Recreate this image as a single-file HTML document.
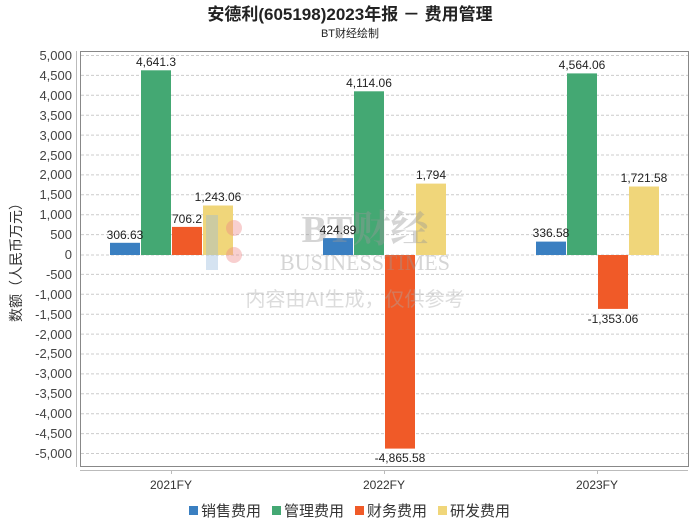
<!DOCTYPE html><html><head><meta charset="utf-8"><style>body{margin:0;background:#fff}svg{display:block;font-family:"Liberation Sans","Noto Sans CJK SC",sans-serif}</style></head><body>
<svg width="700" height="524" viewBox="0 0 700 524">
<text x="350" y="20" text-anchor="middle" font-size="17" font-weight="bold" fill="#222">安德利(605198)2023年报 － 费用管理</text>
<text x="350" y="37" text-anchor="middle" font-size="11" fill="#222">BT财经绘制</text>
<g stroke="#ccc" stroke-dasharray="3,2" stroke-width="1">
<line x1="81" x2="688" y1="55.5" y2="55.5"/><line x1="81" x2="688" y1="75.4" y2="75.4"/><line x1="81" x2="688" y1="95.3" y2="95.3"/><line x1="81" x2="688" y1="115.2" y2="115.2"/><line x1="81" x2="688" y1="135.1" y2="135.1"/><line x1="81" x2="688" y1="155" y2="155"/><line x1="81" x2="688" y1="174.9" y2="174.9"/><line x1="81" x2="688" y1="194.8" y2="194.8"/><line x1="81" x2="688" y1="214.7" y2="214.7"/><line x1="81" x2="688" y1="234.6" y2="234.6"/><line x1="81" x2="688" y1="255" y2="255"/><line x1="81" x2="688" y1="274.4" y2="274.4"/><line x1="81" x2="688" y1="294.3" y2="294.3"/><line x1="81" x2="688" y1="314.2" y2="314.2"/><line x1="81" x2="688" y1="334.1" y2="334.1"/><line x1="81" x2="688" y1="354" y2="354"/><line x1="81" x2="688" y1="373.9" y2="373.9"/><line x1="81" x2="688" y1="393.8" y2="393.8"/><line x1="81" x2="688" y1="413.7" y2="413.7"/><line x1="81" x2="688" y1="433.6" y2="433.6"/><line x1="81" x2="688" y1="453.5" y2="453.5"/>
</g>
<rect x="80.5" y="51.5" width="608" height="415" fill="none" stroke="#888"/>
<line x1="76.5" x2="76.5" y1="51" y2="467" stroke="#bbb"/>
<line x1="80" x2="688" y1="470.5" y2="470.5" stroke="#bbb"/>
<g stroke="#bbb"><line x1="171.5" x2="171.5" y1="470" y2="474"/><line x1="384.5" x2="384.5" y1="470" y2="474"/><line x1="597.5" x2="597.5" y1="470" y2="474"/></g>
<g font-size="13" fill="#444" text-anchor="end">
<text x="72" y="60">5,000</text><text x="72" y="80">4,500</text><text x="72" y="100">4,000</text><text x="72" y="120">3,500</text><text x="72" y="140">3,000</text><text x="72" y="160">2,500</text><text x="72" y="179">2,000</text><text x="72" y="199">1,500</text><text x="72" y="219">1,000</text><text x="72" y="239">500</text><text x="72" y="259">0</text><text x="72" y="279">-500</text><text x="72" y="299">-1,000</text><text x="72" y="319">-1,500</text><text x="72" y="339">-2,000</text><text x="72" y="358">-2,500</text><text x="72" y="378">-3,000</text><text x="72" y="398">-3,500</text><text x="72" y="418">-4,000</text><text x="72" y="438">-4,500</text><text x="72" y="458">-5,000</text>
</g>
<text transform="translate(21,259) rotate(-90)" text-anchor="middle" font-size="14" fill="#333">数额（人民币万元）</text>
<g font-size="12" fill="#333" text-anchor="middle"><text x="171" y="489">2021FY</text><text x="384" y="489">2022FY</text><text x="597" y="489">2023FY</text></g>
<g>
<rect x="110" y="242.8" width="30" height="12.2" fill="#3a7fc1"/><rect x="141" y="70.3" width="30" height="184.7" fill="#44a873"/><rect x="172" y="226.9" width="30" height="28.1" fill="#f05a28"/><rect x="203" y="205.5" width="30" height="49.5" fill="#f0d67a"/>
<rect x="323" y="238.1" width="30" height="16.9" fill="#3a7fc1"/><rect x="354" y="91.3" width="30" height="163.7" fill="#44a873"/><rect x="385" y="255" width="30" height="193.6" fill="#f05a28"/><rect x="416" y="183.6" width="30" height="71.4" fill="#f0d67a"/>
<rect x="536" y="241.6" width="30" height="13.4" fill="#3a7fc1"/><rect x="567" y="73.4" width="30" height="181.6" fill="#44a873"/><rect x="598" y="255" width="30" height="53.9" fill="#f05a28"/><rect x="629" y="186.5" width="30" height="68.5" fill="#f0d67a"/>
</g>
<g opacity="0.4"><text x="365" y="242" text-anchor="middle" font-size="38" font-family="Liberation Serif,Noto Serif CJK SC,serif" fill="#999" font-weight="bold">BT财经</text><text x="365" y="270" text-anchor="middle" font-size="22" font-family="Liberation Serif,serif" fill="#999">BUSINESSTIMES</text><text x="355" y="306" text-anchor="middle" font-size="20" fill="#aaa">内容由AI生成，仅供参考</text><circle cx="234" cy="228" r="8" fill="#e88"/><circle cx="234" cy="255" r="8" fill="#e88"/><rect x="206" y="215" width="12" height="55" fill="#9bd"/></g>
<g font-size="12" fill="#222" text-anchor="middle">
<text x="125" y="239">306.63</text><text x="156" y="66">4,641.3</text><text x="187" y="223">706.2</text><text x="218" y="201">1,243.06</text>
<text x="338" y="234">424.89</text><text x="369" y="87">4,114.06</text><text x="400" y="462">-4,865.58</text><text x="431" y="179">1,794</text>
<text x="551" y="237">336.58</text><text x="582" y="69">4,564.06</text><text x="613" y="323">-1,353.06</text><text x="644" y="182">1,721.58</text>
</g>
<g font-size="15" fill="#333">
<rect x="189" y="506" width="9" height="9" fill="#3a7fc1"/><text x="201" y="516">销售费用</text>
<rect x="272" y="506" width="9" height="9" fill="#44a873"/><text x="284" y="516">管理费用</text>
<rect x="355" y="506" width="9" height="9" fill="#f05a28"/><text x="367" y="516">财务费用</text>
<rect x="438" y="506" width="9" height="9" fill="#f0d67a"/><text x="450" y="516">研发费用</text>
</g>
</svg></body></html>
